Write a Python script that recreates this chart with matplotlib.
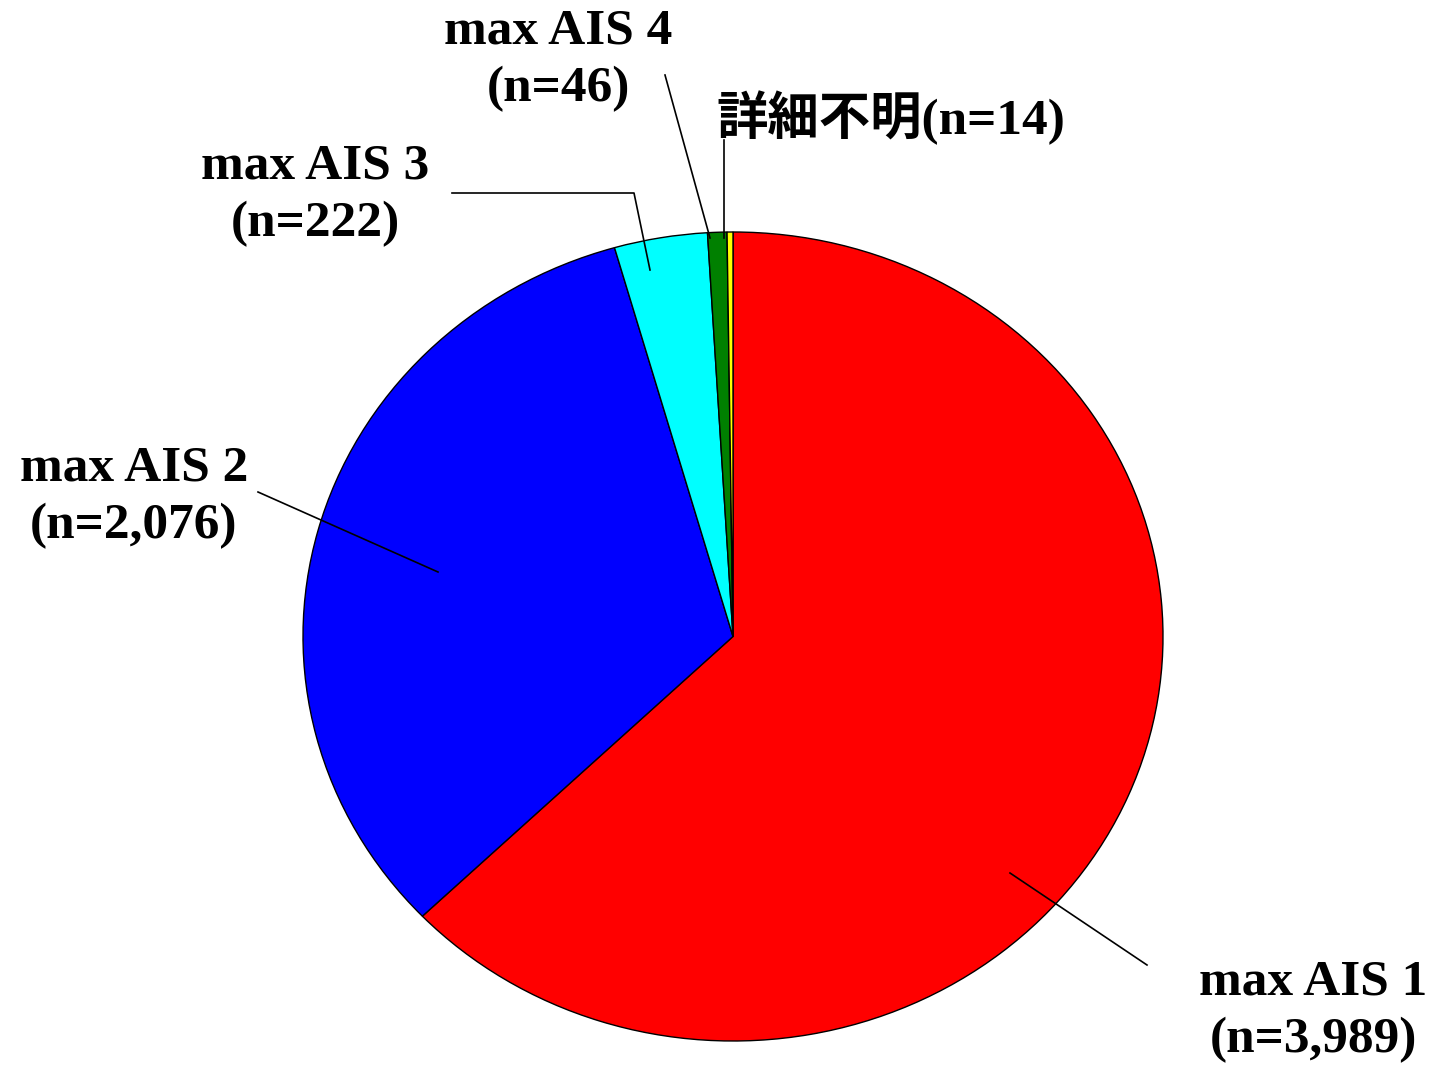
import matplotlib
matplotlib.use("Agg")
import matplotlib.pyplot as plt

labels = ["max AIS 1\n(n=3,989)", "max AIS 2\n(n=2,076)", "max AIS 3\n(n=222)",
          "max AIS 4\n(n=46)", "詳細不明(n=14)"]
values = [3989, 2076, 222, 46, 14]
colors = ["#FF0000", "#0000FF", "#00FFFF", "#008000", "#FFFF00"]

W, H = 1438, 1069
fig = plt.figure(figsize=(W / 100, H / 100), dpi=100)
fig.patch.set_facecolor("white")

# pie ellipse bounds in pixels
left, right, top, bottom = 303, 1163, 232, 1041
ax = fig.add_axes([left / W, 1 - bottom / H, (right - left) / W, (bottom - top) / H])
ax.pie(values, colors=colors, startangle=90, counterclock=False,
       wedgeprops=dict(edgecolor="black", linewidth=1.0))
ax.set_aspect("auto")
ax.set_xlim(-1, 1)
ax.set_ylim(-1, 1)
ax.axis("off")

def fx(px):
    return px / W

def fy(py):
    return 1 - py / H

font = dict(family=["Liberation Serif", "Noto Sans CJK JP"], weight="bold", size=37)

# label texts (pixel centres) and leader lines
text_pos = [(1313, 1011, "center"), (134, 497, "center"), (315, 195, "center"),
            (558, 60, "center"), (716, 118, "left")]
leaders = [
    [(1010, 873), (1147, 965)],
    [(438, 572), (258, 492)],
    [(650, 270), (634, 193), (452, 193)],
    [(710, 238), (665, 75)],
    [(724, 238), (724, 140)],
]

for lab, (px, py, ha) in zip(labels, text_pos):
    fig.text(fx(px), fy(py), lab, ha=ha, va="center", linespacing=1.32,
             multialignment="center", **font)

for pts in leaders:
    xs = [fx(p[0]) for p in pts]
    ys = [fy(p[1]) for p in pts]
    fig.add_artist(plt.Line2D(xs, ys, color="black", linewidth=1.2,
                              transform=fig.transFigure))

fig.savefig("out.png", dpi=100, facecolor="white")
